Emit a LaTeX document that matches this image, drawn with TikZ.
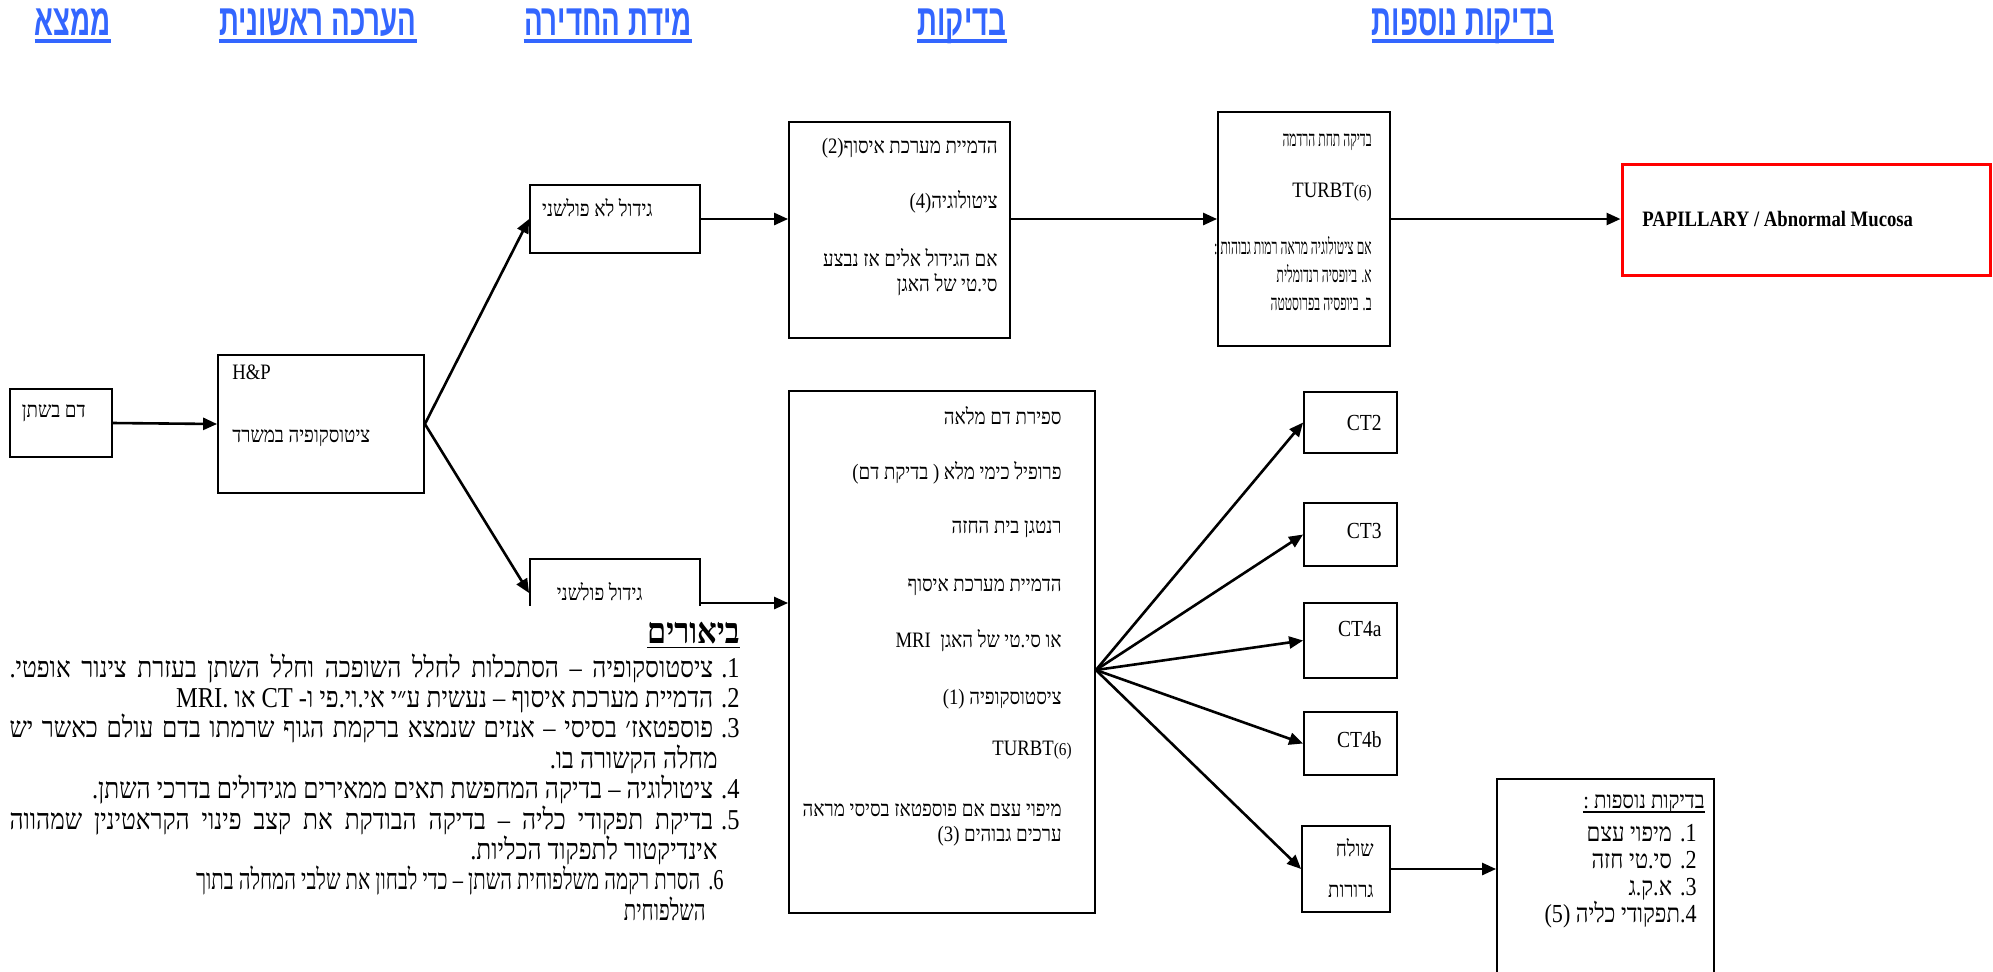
\documentclass[tikz,border=0pt]{standalone}
\usepackage{fontspec}
\setmainfont{Liberation Serif}[FakeStretch=0.85]
\newfontfamily\hebfont[Script=Hebrew,FakeStretch=0.85]{Liberation Serif}
\newfontfamily\hebnarrow[Script=Hebrew,FakeStretch=0.55]{Liberation Serif}
\newfontfamily\hebtight[Script=Hebrew,FakeStretch=0.71]{Liberation Serif}
\newfontfamily\hdfont[Script=Hebrew,FakeStretch=0.63]{Liberation Sans}
\usetikzlibrary{arrows.meta,positioning}
\TeXXeTstate=1
\definecolor{hdblue}{RGB}{51,102,255}
\newcommand\rtl[1]{\beginR#1\endR}
\newcommand\heb[1]{{\hebfont\beginR#1\endR}}
\newcommand\hebn[1]{{\hebnarrow\fontsize{11}{12.5}\selectfont\beginR#1\endR}}
\newcommand\hebt[1]{{\hebtight\beginR#1\endR}}
\newcommand\jline[1]{\hbox to 365pt{\hebfont\beginR#1\endR}}
\newcommand\lat[1]{\beginL#1\endL}
\newcommand\nm[1]{#1\kern0pt.\kern4pt}
\newcommand\sm[1]{{\hebfont\fontsize{9}{10}\selectfont#1}}
\tikzset{box/.style={draw,rectangle,inner sep=0pt,line width=0.9pt}}
\tikzset{txt/.style={inner sep=0pt,align=right,font=\fontsize{11}{12.5}\selectfont}}
\tikzset{ct/.style={inner sep=0pt,font=\fontsize{11.5}{13}\selectfont}}
\tikzset{hd/.style={inner sep=0pt,text=hdblue,font=\hdfont\bfseries\fontsize{22}{24}\selectfont}}
\tikzset{hdline/.style={hdblue,line width=1.8pt}}
\tikzset{notes/.style={fill=white,inner xsep=2pt,inner ysep=8pt,align=right,font=\fontsize{14.4}{15.2}\selectfont}}
\tikzset{arr/.style={-{Triangle[length=7pt,width=6pt]},line width=1.3pt}}

\begin{document}
\begin{tikzpicture}[x=0.5pt,y=-0.5pt]
      \useasboundingbox (0,0) rectangle (1993,971);
      \node[hd,anchor=base] (h1) at (73,35) {\rtl{ממצא}};
      \node[hd,anchor=base] (h2) at (318,35) {\rtl{הערכה ראשונית}};
      \node[hd,anchor=base] (h3) at (608,35) {\rtl{מידת החדירה}};
      \node[hd,anchor=base] (h4) at (962,35) {\rtl{בדיקות}};
      \node[hd,anchor=base] (h5) at (1463,35) {\rtl{בדיקות נוספות}};
      \draw[hdline] ([yshift=-3pt]h1.base west) -- ([yshift=-3pt]h1.base east);
      \draw[hdline] ([yshift=-3pt]h2.base west) -- ([yshift=-3pt]h2.base east);
      \draw[hdline] ([yshift=-3pt]h3.base west) -- ([yshift=-3pt]h3.base east);
      \draw[hdline] ([yshift=-3pt]h4.base west) -- ([yshift=-3pt]h4.base east);
      \draw[hdline] ([yshift=-3pt]h5.base west) -- ([yshift=-3pt]h5.base east);

      \node[box,minimum width=51pt,minimum height=34pt] (dam) at (61,423) {};
      \node[box,minimum width=103pt,minimum height=69pt] (hp) at (321,424) {};
      \node[box,minimum width=85pt,minimum height=34pt] (gA) at (615,219) {};
      \node[box,minimum width=110.5pt,minimum height=108pt] (img) at (899.5,230) {};
      \node[box,minimum width=86pt,minimum height=117pt] (anes) at (1304,229) {};
      \node[box,draw=red,line width=1.5pt,minimum width=184pt,minimum height=55.5pt] (pap) at (1806,219.5) {};
      \node[box,minimum width=85pt,minimum height=34pt] (gB) at (615,593) {};
      \node[box,minimum width=153pt,minimum height=261pt] (tests) at (942,652) {};
      \node[box,minimum width=46.5pt,minimum height=30.5pt] (ct2) at (1350.5,422.5) {};
      \node[box,minimum width=46.5pt,minimum height=31.5pt] (ct3) at (1350.5,534.5) {};
      \node[box,minimum width=46.5pt,minimum height=37.5pt] (ct4a) at (1350.5,640.5) {};
      \node[box,minimum width=46.5pt,minimum height=31.5pt] (ct4b) at (1350.5,743.5) {};
      \node[box,minimum width=44pt,minimum height=43pt] (sh) at (1346,869) {};
      \node[box,minimum width=108.5pt,minimum height=105.5pt] (nos) at (1605.5,884.5) {};

      \node[txt,anchor=east] (damT) at (86,413) {\heb{דם בשתן}};
      \node[txt,anchor=west] (hpA) at (232,372) {H\&P};
      \node[txt,anchor=west] (hpB) at (232,438) {\heb{ציטוסקופיה במשרד}};
      \node[txt,anchor=east] (gAT) at (653,208) {\heb{גידול לא פולשני}};
      \node[txt,anchor=east] (gBT) at (643,592) {\heb{גידול פולשני}};
      \node[txt,anchor=north east] (imgT) at (998,138) {\heb{הדמיית מערכת איסוף\lat{(2)}}\\[15pt]
        \heb{ציטולוגיה\lat{(4)}}\\[16.5pt]
        \heb{אם הגידול אלים אז נבצע}\\
        \heb{סי.טי של האגן}};
      \node[txt,anchor=north east] (anesT) at (1372,133) {\hebn{בדיקה תחת הרדמה}\\[13pt]
        TURBT\sm{(6)}\\[16pt]
        {\hebnarrow\fontsize{11}{12.5}\selectfont :\ \rtl{אם ציטולוגיה מראה רמות גבוהות}}\\[1.5pt]
        \hebn{א. ביופסיה רנדומלית}\\[1.5pt]
        \hebn{ב. ביופסיה בפרוסטטה}};
      \node[anchor=west,inner sep=0pt,font=\bfseries\fontsize{11}{13}\selectfont] (papT) at (1642,219) {PAPILLARY / Abnormal Mucosa};
      \node[txt,anchor=north east] (testsT) at (1062,406) {\heb{ספירת דם מלאה}\\[15pt]
        \heb{פרופיל כימי מלא ( בדיקת דם)}\\[14.5pt]
        \heb{רנטגן בית החזה}\\[16.5pt]
        \heb{הדמיית מערכת איסוף}\\[15.5pt]
        \heb{או סי.טי של האגן\ \ MRI}\\[16pt]
        \heb{ציסטוסקופיה \lat{(1)}}\\[13pt]
        TURBT\sm{(6)}\kern-5pt\\[18pt]
        \heb{מיפוי עצם אם פוספטאז בסיסי מראה}\\
        \heb{ערכים גבוהים \lat{(3)}}};
      \node[ct,anchor=east] (ct2T) at (1382,423) {CT2};
      \node[ct,anchor=east] (ct3T) at (1382,531) {CT3};
      \node[ct,anchor=east] (ct4aT) at (1382,629) {CT4a};
      \node[ct,anchor=east] (ct4bT) at (1382,740) {CT4b};
      \node[txt,anchor=north east] (shT) at (1374,838) {\heb{שולח}\\[8pt]\heb{גרורות}};
      \node[txt,anchor=base east,font=\fontsize{12}{13.5}\selectfont] (nosH) at (1705,808) {{\hebfont :\ \rtl{בדיקות נוספות}}};
      \draw[line width=0.6pt] ([yshift=-2pt]nosH.base west) -- ([yshift=-2pt]nosH.base east);
      \node[txt,anchor=north east,font=\fontsize{13}{13.5}\selectfont] (nosT) at (1697,824) {\heb{\nm{1}מיפוי עצם}\\
        \heb{\nm{2}סי.טי חזה}\\
        \heb{\nm{3}א.ק.ג}\\
        \heb{4\kern0pt.תפקודי כליה \lat{(5)}}};

      \draw[arr] (dam.east) -- (hp.west);
      \draw[arr] (hp.east) -- (gA.west);
      \draw[arr] (hp.east) -- (gB.west);
      \draw[arr] (gA.east) -- (gA.east -| img.west);
      \draw[arr] (gA.east -| img.east) -- (gA.east -| anes.west);
      \draw[arr] (gA.east -| anes.east) -- (gA.east -| pap.west);
      \draw[arr] ([yshift=-5pt]gB.east) -- ([yshift=-5pt]gB.east -| tests.west);
      \draw[arr] ([yshift=-9pt]tests.east) -- (ct2.west);
      \draw[arr] ([yshift=-9pt]tests.east) -- (ct3.west);
      \draw[arr] ([yshift=-9pt]tests.east) -- (ct4a.west);
      \draw[arr] ([yshift=-9pt]tests.east) -- (ct4b.west);
      \draw[arr] ([yshift=-9pt]tests.east) -- (sh.west);
      \draw[arr] (sh.east) -- (sh.east -| nos.west);

      \node[notes,anchor=north east] (legend) at (744,606) {{\hebfont\fontsize{18}{15}\selectfont\underline{\textbf{ביאורים}}}\\[1.5pt]
        \jline{\nm{1}ציסטוסקופיה – הסתכלות לחלל השופכה וחלל השתן בעזרת צינור אופטי.}\\
        \heb{\nm{2}הדמיית מערכת איסוף – נעשית ע״י אי.וי.פי ו- CT או MRI.}\\
        \jline{\nm{3}פוספטאז׳ בסיסי – אנזים שנמצא ברקמת הגוף שרמתו בדם עולם כאשר יש}\\
        \heb{\kern11pt מחלה הקשורה בו.}\\
        \heb{\nm{4}ציטולוגיה – בדיקה המחפשת תאים ממאירים מגידולים בדרכי השתן.}\\
        \jline{\nm{5}בדיקת תפקודי כליה – בדיקה הבודקת את קצב פינוי הקראטינין שמהווה}\\
        \heb{\kern11pt אינדיקטור לתפקוד הכליות.}\\
        \hebt{\kern8pt\nm{6}הסרת רקמה משלפוחית השתן – כדי לבחון את שלבי המחלה בתוך}\\
        \hebt{\kern17pt השלפוחית}};
    \end{tikzpicture}
\end{document}
